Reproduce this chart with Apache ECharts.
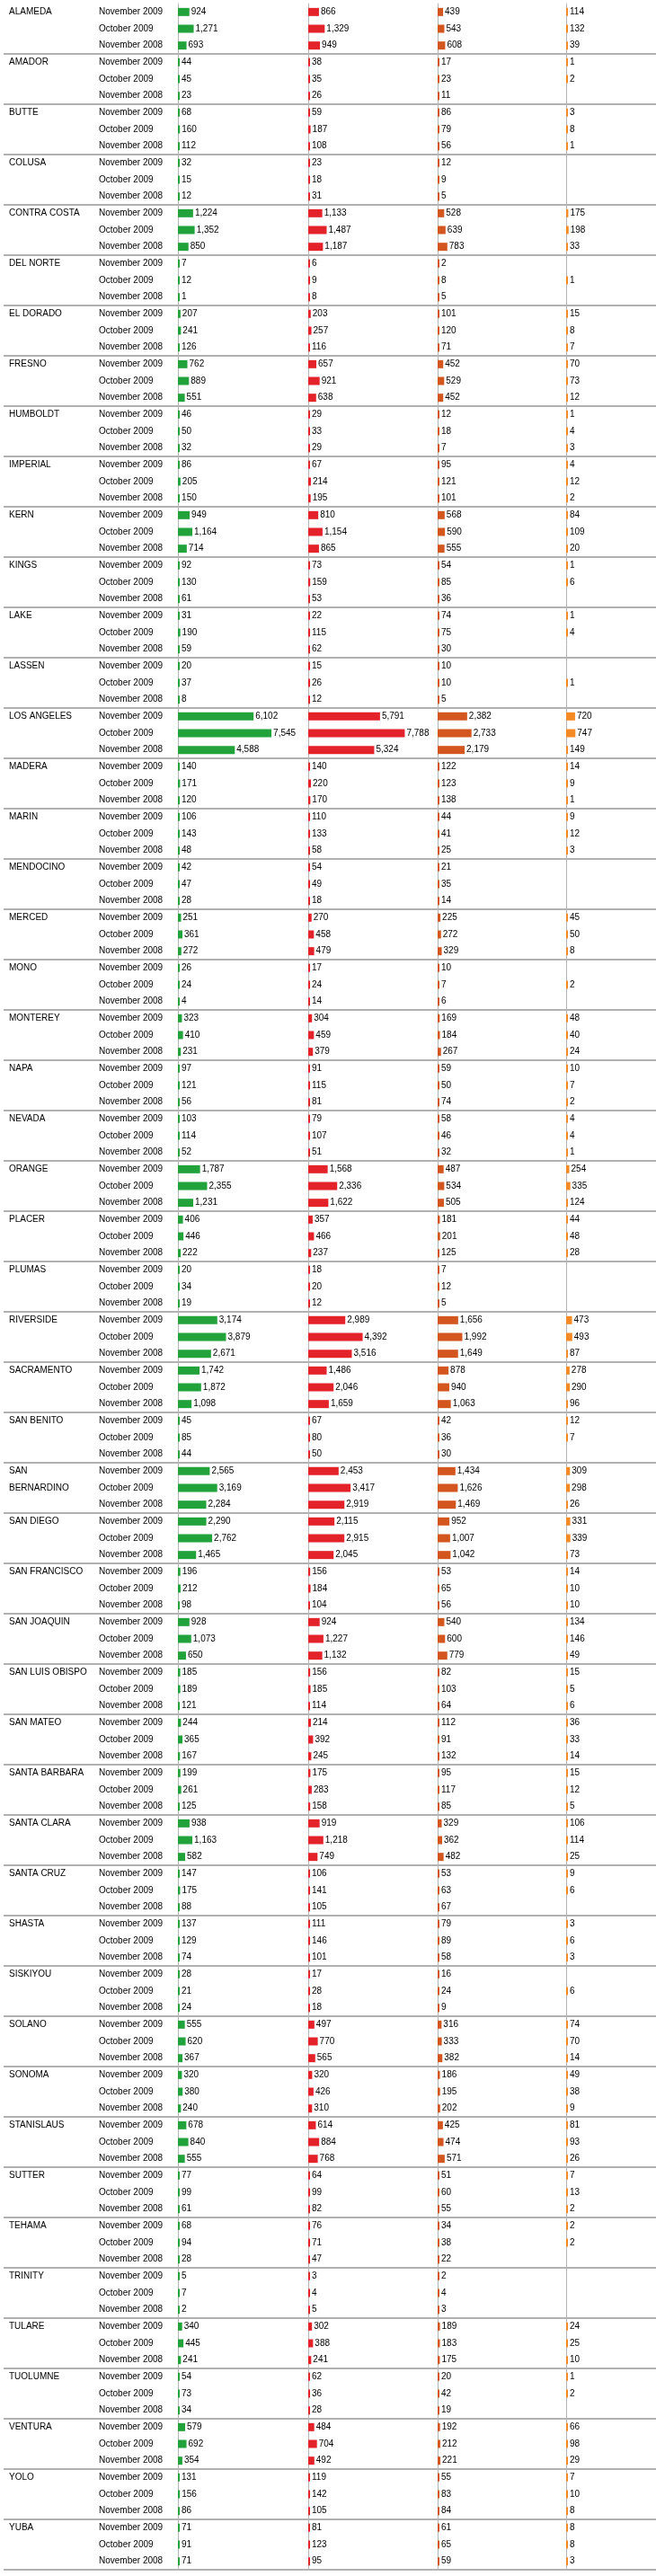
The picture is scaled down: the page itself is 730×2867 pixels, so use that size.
<!DOCTYPE html>
<html><head><meta charset="utf-8">
<script src="https://cdn.jsdelivr.net/npm/echarts@6/dist/echarts.min.js"></script>
<style>html,body{margin:0;padding:0;background:#fff}#c{width:730px;height:2867px}</style>
</head><body><div id="c"></div>
<script>
const counties = ['ALAMEDA','AMADOR','BUTTE','COLUSA','CONTRA COSTA','DEL NORTE','EL DORADO','FRESNO','HUMBOLDT','IMPERIAL','KERN','KINGS','LAKE','LASSEN','LOS ANGELES','MADERA','MARIN','MENDOCINO','MERCED','MONO','MONTEREY','NAPA','NEVADA','ORANGE','PLACER','PLUMAS','RIVERSIDE','SACRAMENTO','SAN BENITO','SAN BERNARDINO','SAN DIEGO','SAN FRANCISCO','SAN JOAQUIN','SAN LUIS OBISPO','SAN MATEO','SANTA BARBARA','SANTA CLARA','SANTA CRUZ','SHASTA','SISKIYOU','SOLANO','SONOMA','STANISLAUS','SUTTER','TEHAMA','TRINITY','TULARE','TUOLUMNE','VENTURA','YOLO','YUBA'];
const periods = ['November 2009','October 2009','November 2008'];

// each entry: [November 2009, October 2009, November 2008]
const col1 = [[924,1271,693],[44,45,23],[68,160,112],[32,15,12],[1224,1352,850],[7,12,1],[207,241,126],[762,889,551],[46,50,32],[86,205,150],[949,1164,714],[92,130,61],[31,190,59],[20,37,8],[6102,7545,4588],[140,171,120],[106,143,48],[42,47,28],[251,361,272],[26,24,4],[323,410,231],[97,121,56],[103,114,52],[1787,2355,1231],[406,446,222],[20,34,19],[3174,3879,2671],[1742,1872,1098],[45,85,44],[2565,3169,2284],[2290,2762,1465],[196,212,98],[928,1073,650],[185,189,121],[244,365,167],[199,261,125],[938,1163,582],[147,175,88],[137,129,74],[28,21,24],[555,620,367],[320,380,240],[678,840,555],[77,99,61],[68,94,28],[5,7,2],[340,445,241],[54,73,34],[579,692,354],[131,156,86],[71,91,71]];
const col2 = [[866,1329,949],[38,35,26],[59,187,108],[23,18,31],[1133,1487,1187],[6,9,8],[203,257,116],[657,921,638],[29,33,29],[67,214,195],[810,1154,865],[73,159,53],[22,115,62],[15,26,12],[5791,7788,5324],[140,220,170],[110,133,58],[54,49,18],[270,458,479],[17,24,14],[304,459,379],[91,115,81],[79,107,51],[1568,2336,1622],[357,466,237],[18,20,12],[2989,4392,3516],[1486,2046,1659],[67,80,50],[2453,3417,2919],[2115,2915,2045],[156,184,104],[924,1227,1132],[156,185,114],[214,392,245],[175,283,158],[919,1218,749],[106,141,105],[111,146,101],[17,28,18],[497,770,565],[320,426,310],[614,884,768],[64,99,82],[76,71,47],[3,4,5],[302,388,241],[62,36,28],[484,704,492],[119,142,105],[81,123,95]];
const col3 = [[439,543,608],[17,23,11],[86,79,56],[12,9,5],[528,639,783],[2,8,5],[101,120,71],[452,529,452],[12,18,7],[95,121,101],[568,590,555],[54,85,36],[74,75,30],[10,10,5],[2382,2733,2179],[122,123,138],[44,41,25],[21,35,14],[225,272,329],[10,7,6],[169,184,267],[59,50,74],[58,46,32],[487,534,505],[181,201,125],[7,12,5],[1656,1992,1649],[878,940,1063],[42,36,30],[1434,1626,1469],[952,1007,1042],[53,65,56],[540,600,779],[82,103,64],[112,91,132],[95,117,85],[329,362,482],[53,63,67],[79,89,58],[16,24,9],[316,333,382],[186,195,202],[425,474,571],[51,60,55],[34,38,22],[2,4,3],[189,183,175],[20,42,19],[192,212,221],[55,83,84],[61,65,59]];
const col4 = [[114,132,39],[1,2,null],[3,8,1],[null,null,null],[175,198,33],[null,1,null],[15,8,7],[70,73,12],[1,4,3],[4,12,2],[84,109,20],[1,6,null],[1,4,null],[null,1,null],[720,747,149],[14,9,1],[9,12,3],[null,null,null],[45,50,8],[null,2,null],[48,40,24],[10,7,2],[4,4,1],[254,335,124],[44,48,28],[null,null,null],[473,493,87],[278,290,96],[12,7,null],[309,298,26],[331,339,73],[14,10,10],[134,146,49],[15,5,6],[36,33,14],[15,12,5],[106,114,25],[9,6,null],[3,6,3],[null,6,null],[74,70,14],[49,38,9],[81,93,26],[7,13,2],[2,2,null],[null,null,null],[24,25,10],[1,2,null],[66,98,29],[7,10,8],[8,8,3]];

const wrappedNames = {'SAN BERNARDINO': ['SAN', 'BERNARDINO']};
const columns = [col1, col2, col3, col4];
const colors = ['#22a23b', '#e3222a', '#d3561f', '#f58a24'];
const colLeft = [198, 343, 487, 630];
const FONT = "'Liberation Sans', Arial, sans-serif";
const TOP = 4, HEIGHT = 2856;

const rows = [];
counties.forEach(c => periods.forEach(p => rows.push(c + '|' + p)));

const grids = [{left: 4, right: 0, top: TOP, height: HEIGHT, outerBoundsMode: 'none', containLabel: false}];
const xAxes = [{gridIndex: 0, type: 'value', show: false}];
const yAxes = [{
  gridIndex: 0, type: 'category', data: rows, inverse: true,
  axisLine: {show: false}, axisTick: {show: false},
  splitLine: {show: true, interval: (i) => i > 0 && i % 3 === 0, lineStyle: {color: '#b2b2b2', width: 2}},
  axisLabel: {
    show: true, inside: true, margin: 6, align: 'left', interval: 0,
    fontSize: 10, color: '#000', fontFamily: FONT,
    formatter: (val, idx) => {
      const ci = Math.floor(idx / 3), pi = idx % 3;
      const lines = wrappedNames[counties[ci]] || [counties[ci]];
      const name = lines[pi] || '\u00a0';
      return '{c|' + name + '}{d|' + periods[pi] + '}';
    },
    rich: {
      c: {width: 100, fontSize: 10, color: '#000', fontFamily: FONT},
      d: {fontSize: 10, color: '#000', fontFamily: FONT}
    }
  }
}];
const series = [];
columns.forEach((col, i) => {
  grids.push({left: colLeft[i], width: 140, top: TOP, height: HEIGHT, outerBoundsMode: 'none', containLabel: false});
  xAxes.push({gridIndex: i + 1, type: 'value', min: 0, max: 10150, show: false});
  yAxes.push({
    gridIndex: i + 1, type: 'category', data: rows, inverse: true,
    axisLine: {show: true, lineStyle: {color: '#b4b4b4', width: 1}},
    axisTick: {show: false}, axisLabel: {show: false}, splitLine: {show: false}
  });
  series.push({
    type: 'bar', xAxisIndex: i + 1, yAxisIndex: i + 1,
    data: col.flat(), barWidth: 9, barMinHeight: 2,
    itemStyle: {color: colors[i]},
    label: {
      show: true, position: 'right', distance: 2,
      fontSize: 10, color: '#000', fontFamily: FONT,
      formatter: (p) => Number(p.value).toLocaleString('en-US')
    }
  });
});

const chart = echarts.init(document.getElementById('c'), null, {renderer: 'canvas'});
chart.setOption({animation: false, grid: grids, xAxis: xAxes, yAxis: yAxes, series: series});
</script>
</body></html>
